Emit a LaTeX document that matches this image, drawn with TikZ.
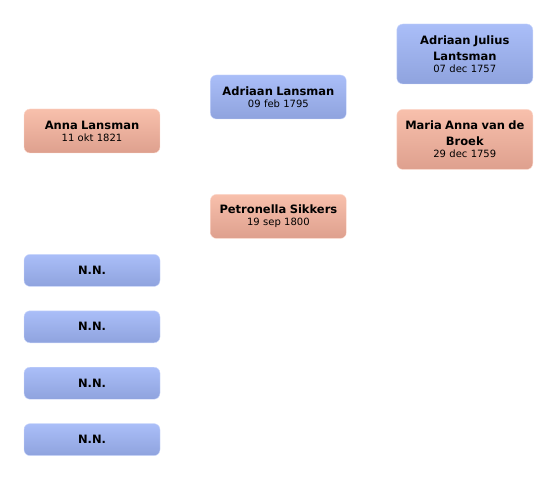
\documentclass[tikz,border=0pt]{standalone}
\usepackage{fontspec}
\setmainfont{DejaVu Sans}
\usepackage{xcolor}
\usetikzlibrary{positioning}

\definecolor{maletop}{RGB}{170,190,248}
\definecolor{malebot}{RGB}{143,163,222}
\definecolor{femtop}{RGB}{248,192,172}
\definecolor{fembot}{RGB}{222,160,142}

\newcommand{\person}[2]{{\fontsize{11.5}{16}\selectfont\bfseries #1\par}{\fontsize{10}{12}\selectfont #2\par}}

\begin{document}
\begin{tikzpicture}[
 x=1pt, y=-1pt,
 node distance=24pt,
 box/.style={rectangle, rounded corners=6pt, text width=128pt, align=center, minimum width=136pt, inner sep=3pt, text=black},
 male/.style={box, top color=maletop, bottom color=malebot, draw=maletop!60!white, line width=0.4pt},
 female/.style={box, top color=femtop, bottom color=fembot, draw=femtop!60!white, line width=0.4pt}
 ]
 \useasboundingbox (0,0) rectangle (556,478);
 % Generation 1
 \node[female, minimum height=44pt] (anna) at (92,131) {\person{Anna Lansman}{11 okt 1821}};
 % Generation 2
 \node[male, minimum height=44pt, right=50pt of anna, yshift=34pt] (adriaan) {\person{Adriaan Lansman}{09 feb 1795}};
 \node[female, minimum height=44pt, below=75pt of adriaan] (petronella) {\person{Petronella Sikkers}{19 sep 1800}};
 % Generation 3
 \node[male, minimum height=60pt, right=50pt of adriaan, yshift=43pt] (julius) {\person{Adriaan Julius\\Lantsman}{07 dec 1757}};
 \node[female, minimum height=60pt, below=25pt of julius] (maria) {\person{Maria Anna van de\\Broek}{29 dec 1759}};
 % Unknown persons
 \node[male, minimum height=32pt, below=101pt of anna] (nn1) {\fontsize{11.5}{14}\selectfont\bfseries N.N.};
 \node[male, minimum height=32pt, below=of nn1] (nn2) {\fontsize{11.5}{14}\selectfont\bfseries N.N.};
 \node[male, minimum height=32pt, below=of nn2] (nn3) {\fontsize{11.5}{14}\selectfont\bfseries N.N.};
 \node[male, minimum height=32pt, below=of nn3] (nn4) {\fontsize{11.5}{14}\selectfont\bfseries N.N.};
\end{tikzpicture}
\end{document}
